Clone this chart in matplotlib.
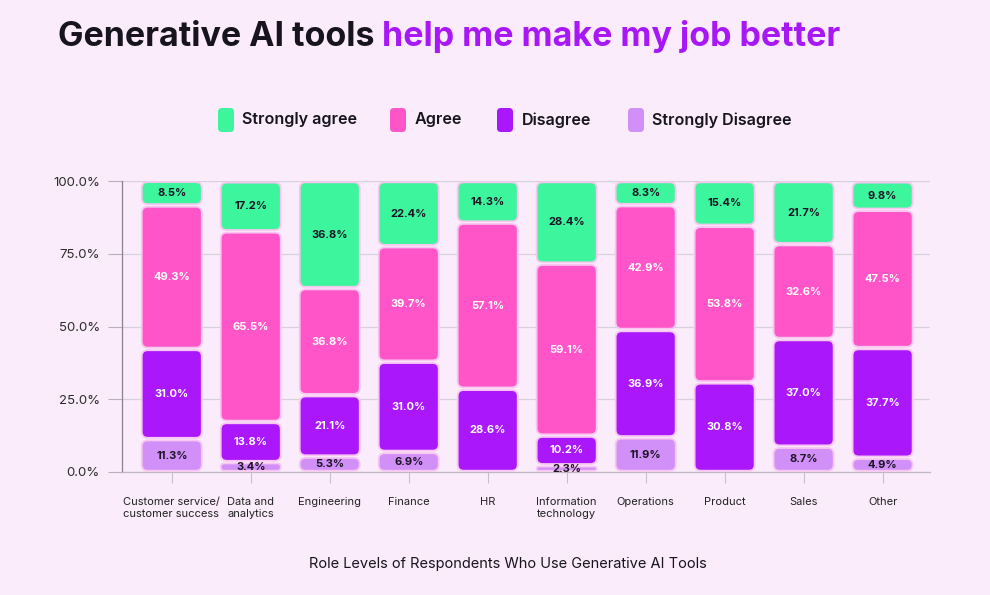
import matplotlib.pyplot as plt
from matplotlib.patches import FancyBboxPatch

plt.rcParams['font.family'] = ['Inter', 'DejaVu Sans']

roles = ['Customer service/\ncustomer success', 'Data and\nanalytics', 'Engineering',
         'Finance', 'HR', 'Information\ntechnology', 'Operations', 'Product', 'Sales', 'Other']
strongly_disagree = [11.3, 3.4, 5.3, 6.9, 0.0, 2.3, 11.9, 0.0, 8.7, 4.9]
disagree = [31.0, 13.8, 21.1, 31.0, 28.6, 10.2, 36.9, 30.8, 37.0, 37.7]
agree = [49.3, 65.5, 36.8, 39.7, 57.1, 59.1, 42.9, 53.8, 32.6, 47.5]
strongly_agree = [8.5, 17.2, 36.8, 22.4, 14.3, 28.4, 8.3, 15.4, 21.7, 9.8]

series = [('Strongly Disagree', strongly_disagree, '#d18ff8', '#1d1525'),
          ('Disagree', disagree, '#aa17fb', 'white'),
          ('Agree', agree, '#ff55c8', 'white'),
          ('Strongly agree', strongly_agree, '#3cf59d', '#1d1525')]

bg = '#faecfb'
fig = plt.figure(figsize=(9.9, 5.95), dpi=100, facecolor=bg)
ax = fig.add_axes([122/990, 1-472/595, (930-122)/990, (472-181)/595], facecolor=bg)

xmin, xmax = -0.63, 9.6
ax.set_xlim(xmin, xmax)
ax.set_ylim(0, 100)

# pixel scale so rounded corners stay round
px_x = (930-122) / (xmax - xmin)
px_y = (472-181) / 100
aspect = px_x / px_y
r0 = 6 / px_x
w = 0.76
gap = 0.45

for i in range(len(roles)):
    bottom = 0
    for name, vals, col, tcol in series:
        v = vals[i]
        if v <= 0:
            continue
        y0 = bottom + gap
        h = v - 2*gap
        r = min(r0, h/aspect/2, w/2)
        p = FancyBboxPatch((i - w/2, y0), w, h,
                           boxstyle=f'round,pad=0,rounding_size={r}',
                           mutation_aspect=aspect, facecolor=col,
                           edgecolor='#f8c6f0', linewidth=1.3, zorder=3)
        ax.add_patch(p)
        ax.text(i, bottom + v/2, f'{v:.1f}%', ha='center', va='center',
                fontsize=8, fontweight='bold', color=tcol, zorder=4)
        bottom += v

ax.set_yticks([0, 25, 50, 75, 100])
ax.set_yticklabels(['0.0%', '25.0%', '50.0%', '75.0%', '100.0%'])
ax.set_xticks(range(len(roles)))
ax.set_xticklabels(roles, fontsize=8, color='#222222', linespacing=1.25)
for lab in ax.get_xticklabels():
    if lab.get_text().startswith(('Customer', 'Data')):
        lab.set_multialignment('left')
ax.tick_params(axis='y', length=10, width=0.8, color='#b8aebc', labelsize=9.5,
               labelcolor='#2b2b2b', pad=6)
ax.tick_params(axis='x', length=8, width=0.8, color='#c9c0cc', pad=10)
ax.grid(axis='y', color='#d9d0dd', linewidth=0.9, zorder=0)
ax.set_axisbelow(True)
for s in ['top', 'right']:
    ax.spines[s].set_visible(False)
ax.spines['left'].set_color('#8a808e')
ax.spines['left'].set_linewidth(0.9)
ax.spines['bottom'].set_color('#c0b6c4')
ax.spines['bottom'].set_linewidth(0.9)

# title
t1 = fig.text(58/990, 1-46/595, 'Generative AI tools ', fontsize=24.5, fontweight='bold',
              color='#17141f', ha='left', va='baseline')
fig.canvas.draw()
bb = t1.get_window_extent()
fig.text(bb.x1/990, 1-46/595, 'help me make my job better', fontsize=24.5, fontweight='bold',
         color='#a817f5', ha='left', va='baseline')

# legend
leg_x = [218, 390, 497, 628]
leg_names = ['Strongly agree', 'Agree', 'Disagree', 'Strongly Disagree']
leg_cols = ['#3cf59d', '#ff55c8', '#aa17fb', '#d18ff8']
for x, name, col in zip(leg_x, leg_names, leg_cols):
    box = FancyBboxPatch((x/990, 1-132/595), 16/990, 24/595,
                         boxstyle='round,pad=0,rounding_size=0.004',
                         mutation_aspect=990/595, transform=fig.transFigure,
                         facecolor=col, edgecolor='none')
    fig.patches.append(box)
    fig.text((x+24.5)/990, 1-120/595, name, fontsize=11.6, fontweight='semibold',
             color='#17141f', ha='left', va='center')

fig.text(508/990, 1-564/595, 'Role Levels of Respondents Who Use Generative AI Tools',
         fontsize=10.5, color='#17141f', ha='center', va='center')

fig.savefig('out.png', dpi=100, facecolor=bg)
